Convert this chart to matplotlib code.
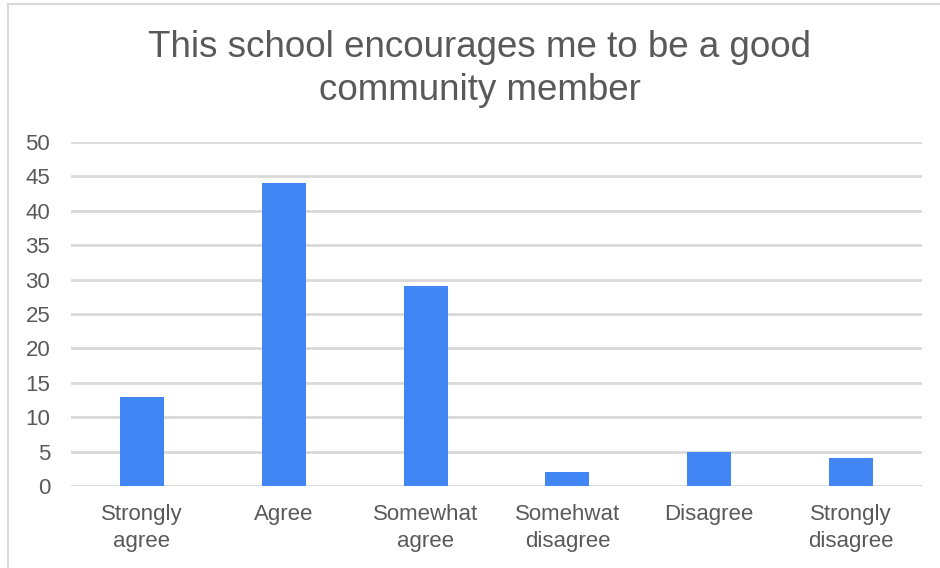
import matplotlib
matplotlib.use("AGG")
import matplotlib.pyplot as plt
import matplotlib.patches as mpatches

categories = ["Strongly\nagree", "Agree", "Somewhat\nagree", "Somehwat\ndisagree", "Disagree", "Strongly\ndisagree"]
values = [13, 44, 29, 2, 5, 4]
yticks = [0, 5, 10, 15, 20, 25, 30, 35, 40, 45, 50]
title = "This school encourages me to be a good\ncommunity member"

text_c = "#595959"
grid_c = "#d9d9d9"
bar_c = "#4285f4"

plt.rcParams["font.family"] = ["Liberation Sans", "DejaVu Sans"]

fig = plt.figure(figsize=(9.4, 5.68), dpi=100)

# light outer frame (only left and top edges fall inside the picture)
frame = mpatches.Rectangle((8 / 940, -0.1), 1.2, 1.1 - 4 / 568, transform=fig.transFigure,
                           fill=False, ec=grid_c, lw=1.5)
fig.patches.append(frame)

ax = fig.add_axes([71 / 940, 1 - 486 / 568, 851 / 940, (486 - 142) / 568])
x = range(len(categories))
ax.bar(x, values, width=0.31, color=bar_c, zorder=3)
ax.set_xlim(-0.5, len(categories) - 0.5)
ax.set_ylim(0, 50)
ax.set_yticks(yticks)
ax.set_xticks(list(x))
ax.set_xticklabels(categories, linespacing=1.35)
ax.yaxis.grid(True, color=grid_c, lw=2, zorder=0)
for s in ax.spines.values():
    s.set_visible(False)
ax.tick_params(axis="both", length=0, labelsize=16, colors=text_c)
ax.tick_params(axis="y", pad=15)
ax.tick_params(axis="x", pad=13)

fig.text(480 / 940, 1 - 69 / 568, title, ha="center", va="center", fontsize=26.5,
         color=text_c, linespacing=1.33)

fig.savefig("out.png", dpi=100)
